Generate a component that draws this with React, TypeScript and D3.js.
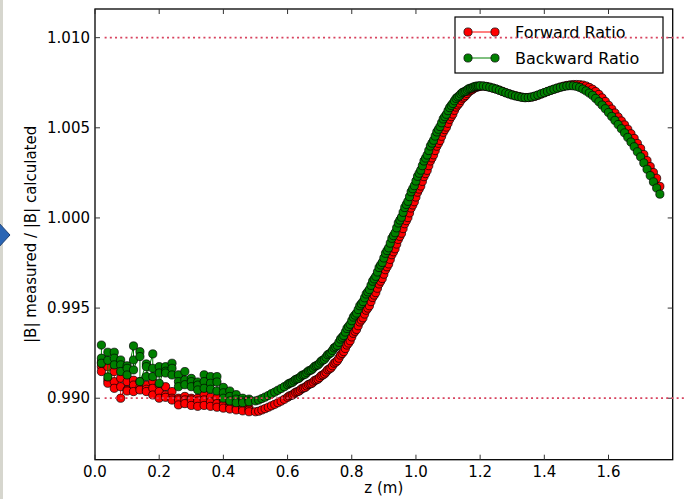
import React from 'react';
import * as d3 from 'd3';

// z positions (m): early scan has three readings per position, then a finer scan
const zPositions = [
  0.02, 0.02, 0.02, 0.04, 0.04, 0.04, 0.06, 0.06, 0.06, 0.08, 0.08, 0.08,
  0.10, 0.10, 0.10, 0.12, 0.12, 0.12, 0.14, 0.14, 0.14, 0.16, 0.16, 0.16,
  0.18, 0.18, 0.18, 0.20, 0.20, 0.20, 0.22, 0.22, 0.22, 0.24, 0.24, 0.24,
  0.26, 0.26, 0.26, 0.28, 0.28, 0.28, 0.30, 0.30, 0.30, 0.32, 0.32, 0.32,
  0.34, 0.34, 0.34, 0.36, 0.36, 0.36, 0.38, 0.38, 0.38, 0.40, 0.40, 0.40,
  0.42, 0.42, 0.42, 0.44, 0.44, 0.44, 0.46, 0.46, 0.46, 0.48, 0.48, 0.48,
  0.50, 0.51, 0.52, 0.53, 0.54, 0.55, 0.56, 0.57, 0.58, 0.59,
  0.600, 0.605, 0.610, 0.615, 0.620, 0.625, 0.630, 0.635, 0.640, 0.645,
  0.650, 0.655, 0.660, 0.665, 0.670, 0.675, 0.680, 0.685, 0.690, 0.695,
  0.700, 0.705, 0.710, 0.715, 0.720, 0.725, 0.730, 0.735, 0.740, 0.745,
  0.750, 0.755, 0.760, 0.765, 0.770, 0.775, 0.780, 0.785, 0.790, 0.795,
  0.800, 0.805, 0.810, 0.815, 0.820, 0.825, 0.830, 0.835, 0.840, 0.845,
  0.850, 0.855, 0.860, 0.865, 0.870, 0.875, 0.880, 0.885, 0.890, 0.895,
  0.900, 0.905, 0.910, 0.915, 0.920, 0.925, 0.930, 0.935, 0.940, 0.945,
  0.950, 0.955, 0.960, 0.965, 0.970, 0.975, 0.980, 0.985, 0.990, 0.995,
  1.000, 1.005, 1.010, 1.015, 1.020, 1.025, 1.030, 1.035, 1.040, 1.045,
  1.050, 1.055, 1.060, 1.065, 1.070, 1.075, 1.080, 1.085, 1.090, 1.095,
  1.100, 1.105, 1.110, 1.115, 1.120, 1.125, 1.130, 1.135, 1.140, 1.145,
  1.150, 1.155, 1.160, 1.165, 1.170, 1.175, 1.180, 1.185, 1.190, 1.195,
  1.20, 1.21, 1.22, 1.23, 1.24, 1.25, 1.26, 1.27, 1.28, 1.29,
  1.30, 1.31, 1.32, 1.33, 1.34, 1.35, 1.36, 1.37, 1.38, 1.39,
  1.40, 1.41, 1.42, 1.43, 1.44, 1.45, 1.46, 1.47, 1.48, 1.49,
  1.50, 1.51, 1.52, 1.53, 1.54, 1.55, 1.56, 1.57, 1.58, 1.59,
  1.60, 1.61, 1.62, 1.63, 1.64, 1.65, 1.66, 1.67, 1.68, 1.69,
  1.70, 1.71, 1.72, 1.73, 1.74, 1.75, 1.76,
];

const forwardRatio = [
  0.99200, 0.99175, 0.99148, 0.99175, 0.99100, 0.99083, 0.99148, 0.99092, 0.99055,
  0.99111, 0.99064, 0.99000, 0.99092, 0.99046, 0.99040, 0.99100, 0.99073, 0.99037,
  0.99092, 0.99060, 0.99046, 0.99073, 0.99050, 0.99037, 0.99092, 0.99055, 0.99018,
  0.99073, 0.99037, 0.99000, 0.99064, 0.99018, 0.99005, 0.99037, 0.99000, 0.98990,
  0.99000, 0.98991, 0.98963, 0.99010, 0.98991, 0.98970, 0.99000, 0.98991, 0.98960,
  0.99000, 0.98985, 0.98955, 0.99020, 0.98991, 0.98960, 0.99005, 0.98980, 0.98955,
  0.99000, 0.98970, 0.98950, 0.98985, 0.98960, 0.98945, 0.98970, 0.98950, 0.98940,
  0.98960, 0.98945, 0.98935, 0.98950, 0.98940, 0.98930, 0.98945, 0.98935, 0.98925,
  0.98925, 0.98928, 0.98935, 0.98942, 0.98950, 0.98958, 0.98966, 0.98975, 0.98984, 0.98994,
  0.99005, 0.99012, 0.99015, 0.99018, 0.99025, 0.99033, 0.99036, 0.99039, 0.99046, 0.99054,
  0.99057, 0.99060, 0.99068, 0.99076, 0.99079, 0.99082, 0.99090, 0.99099, 0.99102, 0.99106,
  0.99115, 0.99125, 0.99129, 0.99135, 0.99145, 0.99157, 0.99162, 0.99168, 0.99180, 0.99194,
  0.99200, 0.99208, 0.99222, 0.99239, 0.99248, 0.99259, 0.99276, 0.99295, 0.99306, 0.99319,
  0.99340, 0.99360, 0.99371, 0.99382, 0.99402, 0.99423, 0.99434, 0.99446, 0.99467, 0.99488,
  0.99500, 0.99513, 0.99536, 0.99559, 0.99572, 0.99586, 0.99610, 0.99634, 0.99649, 0.99664,
  0.99688, 0.99713, 0.99729, 0.99745, 0.99770, 0.99796, 0.99812, 0.99829, 0.99855, 0.99881,
  0.99898, 0.99915, 0.99941, 0.99968, 0.99985, 1.00002, 1.00028, 1.00055, 1.00072, 1.00090,
  1.00116, 1.00143, 1.00160, 1.00177, 1.00203, 1.00229, 1.00246, 1.00264, 1.00290, 1.00316,
  1.00333, 1.00350, 1.00374, 1.00398, 1.00414, 1.00430, 1.00453, 1.00475, 1.00490, 1.00504,
  1.00525, 1.00547, 1.00562, 1.00576, 1.00597, 1.00615, 1.00627, 1.00637, 1.00652, 1.00664,
  1.00670, 1.00679, 1.00690, 1.00700, 1.00707, 1.00711, 1.00718, 1.00723, 1.00726, 1.00728,
  1.00730, 1.00731, 1.00729, 1.00725, 1.00720, 1.00715, 1.00709, 1.00702, 1.00695, 1.00689,
  1.00683, 1.00678, 1.00674, 1.00670, 1.00668, 1.00668, 1.00670, 1.00674, 1.00680, 1.00687,
  1.00694, 1.00701, 1.00708, 1.00714, 1.00720, 1.00726, 1.00731, 1.00735, 1.00738, 1.00740,
  1.00740, 1.00739, 1.00737, 1.00732, 1.00724, 1.00714, 1.00701, 1.00685, 1.00666, 1.00646,
  1.00625, 1.00604, 1.00582, 1.00560, 1.00538, 1.00516, 1.00492, 1.00467, 1.00441, 1.00413,
  1.00385, 1.00352, 1.00318, 1.00285, 1.00252, 1.00220, 1.00175,
];

const backwardRatio = [
  0.99295, 0.99222, 0.99194, 0.99255, 0.99210, 0.99118, 0.99255, 0.99222, 0.99185,
  0.99212, 0.99185, 0.99148, 0.99180, 0.99166, 0.99129, 0.99290, 0.99212, 0.99157,
  0.99258, 0.99231, 0.99092, 0.99190, 0.99175, 0.99120, 0.99246, 0.99166, 0.99120,
  0.99175, 0.99140, 0.99083, 0.99175, 0.99150, 0.99140, 0.99194, 0.99166, 0.99129,
  0.99130, 0.99092, 0.99064, 0.99148, 0.99101, 0.99075, 0.99110, 0.99092, 0.99064,
  0.99090, 0.99073, 0.99046, 0.99130, 0.99092, 0.99055, 0.99120, 0.99083, 0.99050,
  0.99120, 0.99090, 0.99040, 0.99060, 0.99030, 0.99000, 0.99040, 0.99010, 0.98985,
  0.99020, 0.98995, 0.98975, 0.99000, 0.98985, 0.98975, 0.98995, 0.98985, 0.98980,
  0.98985, 0.98990, 0.98998, 0.99006, 0.99015, 0.99025, 0.99034, 0.99044, 0.99054, 0.99064,
  0.99075, 0.99082, 0.99085, 0.99088, 0.99096, 0.99104, 0.99107, 0.99110, 0.99118, 0.99127,
  0.99130, 0.99133, 0.99142, 0.99151, 0.99154, 0.99158, 0.99167, 0.99177, 0.99181, 0.99185,
  0.99195, 0.99206, 0.99211, 0.99216, 0.99228, 0.99241, 0.99246, 0.99252, 0.99265, 0.99279,
  0.99285, 0.99293, 0.99310, 0.99328, 0.99338, 0.99348, 0.99367, 0.99387, 0.99398, 0.99410,
  0.99430, 0.99450, 0.99461, 0.99472, 0.99492, 0.99513, 0.99524, 0.99536, 0.99557, 0.99578,
  0.99590, 0.99603, 0.99626, 0.99649, 0.99662, 0.99676, 0.99700, 0.99725, 0.99739, 0.99753,
  0.99778, 0.99804, 0.99819, 0.99834, 0.99860, 0.99887, 0.99902, 0.99918, 0.99945, 0.99972,
  0.99988, 1.00004, 1.00031, 1.00058, 1.00075, 1.00092, 1.00118, 1.00145, 1.00162, 1.00179,
  1.00205, 1.00231, 1.00248, 1.00265, 1.00290, 1.00316, 1.00332, 1.00349, 1.00374, 1.00399,
  1.00415, 1.00431, 1.00454, 1.00477, 1.00492, 1.00507, 1.00528, 1.00549, 1.00562, 1.00575,
  1.00595, 1.00612, 1.00624, 1.00635, 1.00650, 1.00663, 1.00671, 1.00677, 1.00688, 1.00696,
  1.00700, 1.00704, 1.00711, 1.00717, 1.00720, 1.00722, 1.00727, 1.00730, 1.00731, 1.00732,
  1.00733, 1.00732, 1.00729, 1.00725, 1.00720, 1.00715, 1.00708, 1.00701, 1.00694, 1.00688,
  1.00682, 1.00677, 1.00673, 1.00669, 1.00667, 1.00668, 1.00671, 1.00676, 1.00682, 1.00689,
  1.00695, 1.00702, 1.00708, 1.00714, 1.00720, 1.00725, 1.00729, 1.00732, 1.00734, 1.00733,
  1.00730, 1.00724, 1.00715, 1.00705, 1.00693, 1.00680, 1.00663, 1.00645, 1.00626, 1.00606,
  1.00585, 1.00563, 1.00541, 1.00518, 1.00495, 1.00472, 1.00447, 1.00421, 1.00395, 1.00367,
  1.00339, 1.00305, 1.00270, 1.00235, 1.00200, 1.00166, 1.00132,
];

const xTicks = [0.0, 0.2, 0.4, 0.6, 0.8, 1.0, 1.2, 1.4, 1.6];
const yTicks = [0.990, 0.995, 1.000, 1.005, 1.010];
const limitLevels = [0.990, 1.010];
const limitSpan = [0.03, 1.84];
const seriesNames = ['Forward Ratio', 'Backward Ratio'];
const seriesColors = ['#ff0000', '#008000'];

const W = 685;
const H = 499;
const plot = { left: 95, right: 672.7, top: 9, bottom: 459.7 };
const font = 'DejaVu Sans, sans-serif';
const markerR = 4.1;

export default function App() {
  const x = d3.scaleLinear().domain([0, 1.8]).range([plot.left, plot.right]);
  const y = d3.scaleLinear().domain([0.98659, 1.01159]).range([plot.bottom, plot.top]);

  const series = [forwardRatio, backwardRatio].map((vals, i) => ({
    name: seriesNames[i],
    color: seriesColors[i],
    points: vals.map((v, j) => [zPositions[j], v] as [number, number]),
  }));

  const line = d3.line<[number, number]>()
    .x(d => x(d[0]))
    .y(d => y(d[1]));

  const legend = { x: 455, y: 17, w: 208, h: 56 };

  return (
    <svg width={W} height={H} style={{ position: 'fixed', left: 0, top: 0, background: '#fff' }}
      fontFamily={font}>
      <rect x={0} y={0} width={W} height={H} fill="#fff" />
      <rect x={0} y={0} width={3} height={H} fill="#d6d6ce" />
      <polygon points="-14,235 -2,222 10,235 -2,248" fill="#2a65b4" stroke="#1c3f72" strokeWidth={1} />

      <g>
        {series.map(s => (
          <g key={s.name}>
            <path d={line(s.points) || ''} fill="none" stroke={s.color} strokeWidth={1} />
            {s.points.map((p, k) => (
              <circle key={k} cx={x(p[0])} cy={y(p[1])} r={markerR} fill={s.color}
                stroke="#000" strokeWidth={0.7} />
            ))}
          </g>
        ))}
      </g>

      {/* frame */}
      <rect x={plot.left} y={plot.top} width={plot.right - plot.left} height={plot.bottom - plot.top}
        fill="none" stroke="#000" strokeWidth={1.3} />

      {/* x ticks */}
      {xTicks.map(t => (
        <g key={t}>
          <line x1={x(t)} x2={x(t)} y1={plot.bottom} y2={plot.bottom - 5} stroke="#333" strokeWidth={1} />
          <line x1={x(t)} x2={x(t)} y1={plot.top} y2={plot.top + 5} stroke="#333" strokeWidth={1} />
          <text x={x(t)} y={477} textAnchor="middle" fontSize={15} fill="#000">{t.toFixed(1)}</text>
        </g>
      ))}

      {/* y ticks */}
      {yTicks.map(t => (
        <g key={t}>
          <line x1={plot.left} x2={plot.left + 5} y1={y(t)} y2={y(t)} stroke="#333" strokeWidth={1} />
          <line x1={plot.right} x2={plot.right - 5} y1={y(t)} y2={y(t)} stroke="#333" strokeWidth={1} />
          <text x={90} y={y(t)} textAnchor="end" dominantBaseline="central" fontSize={15} fill="#000">
            {t.toFixed(3)}
          </text>
        </g>
      ))}

      <text x={(plot.left + plot.right) / 2} y={493} textAnchor="middle" fontSize={15} fill="#000">z (m)</text>
      <text transform={`translate(31,${(plot.top + plot.bottom) / 2}) rotate(-90)`} textAnchor="middle"
        dominantBaseline="central" fontSize={15} fill="#000">|B| measured / |B| calculated</text>

      {/* legend */}
      <rect x={legend.x} y={legend.y} width={legend.w} height={legend.h} fill="#fff" stroke="#000" strokeWidth={1.2} />
      {series.map((s, i) => {
        const cy = legend.y + 15 + i * 26;
        return (
          <g key={s.name}>
            <line x1={468} x2={495} y1={cy} y2={cy} stroke={s.color} strokeWidth={1} />
            <circle cx={468} cy={cy} r={markerR} fill={s.color} stroke="#000" strokeWidth={0.7} />
            <circle cx={495} cy={cy} r={markerR} fill={s.color} stroke="#000" strokeWidth={0.7} />
            <text x={515} y={cy} dominantBaseline="central" fontSize={16} fill="#000">{s.name}</text>
          </g>
        );
      })}

      {/* limit lines, drawn over the legend as in the original */}
      {limitLevels.map(lv => (
        <line key={lv} x1={x(limitSpan[0])} x2={x(limitSpan[1])} y1={y(lv)} y2={y(lv)}
          stroke="#d8435f" strokeWidth={1.8} strokeDasharray="2,3.2" />
      ))}
    </svg>
  );
}
